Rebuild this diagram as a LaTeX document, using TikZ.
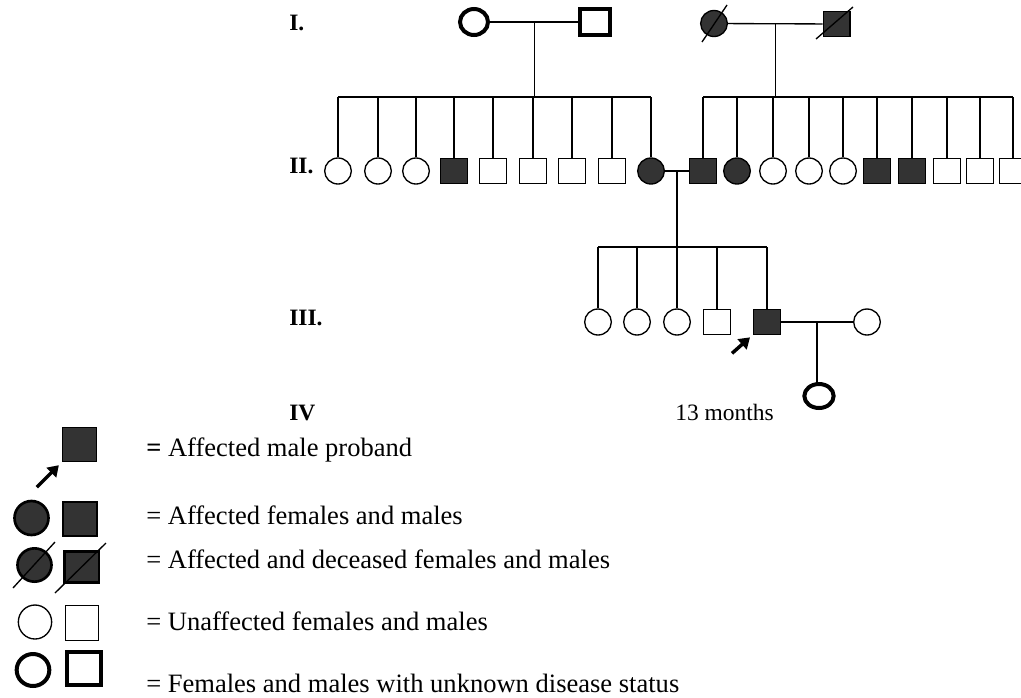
\documentclass[tikz,border=0pt]{standalone}
\usepackage{fontspec}
\setmainfont{Liberation Serif}
\usetikzlibrary{shapes.geometric,arrows.meta}
\tikzset{
  fem/.style={ellipse, draw, line width=1pt, minimum width=20pt, minimum height=19.5pt, inner sep=0pt},
  mal/.style={rectangle, draw, line width=1pt, minimum width=20pt, minimum height=19pt, inner sep=0pt},
  afem/.style={fem, fill=black!80},
  amal/.style={mal, fill=black!80},
  unk/.style={line width=3pt},
  ln/.style={line width=1pt},
  gen/.style={anchor=base west, inner sep=0pt, font=\fontsize{17.6}{20}\selectfont\bfseries},
  key/.style={anchor=base west, inner sep=0pt, font=\fontsize{19.9}{24}\selectfont},
  prb/.style={-{Triangle[length=8pt,width=10pt]}, line width=2.6pt}
}
\newcommand{\deadmark}[3]{\draw[ln] ([shift={#2}]#1.center) -- ([shift={#3}]#1.center);}
\begin{document}
\begin{tikzpicture}[x=0.75pt, y=-0.75pt]
\useasboundingbox (0,0) rectangle (1021,697);
\node[gen] (g1) at (289,30) {I.};
\node[gen] (g2) at (289,173) {II.};
\node[gen] (g3) at (289,325) {III.};
\node[gen] (g4) at (289,420) {IV};
% generation I
\node[fem, unk, minimum width=21pt, minimum height=19.5pt] (i1) at (474,22) {};
\node[mal, unk, minimum width=22pt, minimum height=20pt] (i2) at (595,22) {};
\node[afem] (i3) at (714,23.5) {};
\node[amal] (i4) at (836.5,24) {};
\deadmark{i3}{(-12,18.5)}{(13,-18.5)}
\deadmark{i4}{(-20.5,15)}{(16.5,-17)}
\draw[ln] (i1) -- coordinate (m1) (i2);
\draw[ln] (i3) -- coordinate (m2) (i4);
% generation II
\foreach \x/\s [count=\k] in {338/fem,378/fem,416/fem,454/amal,493/mal,533/mal,572/mal,612/mal,651/afem}
  \node[\s] (a\k) at (\x,171) {};
\foreach \x/\s [count=\k] in {703/amal,737/afem,773/fem,809/fem,843/fem,877/amal,912/amal,947/mal,980/mal,1013/mal}
  \node[\s] (b\k) at (\x,171) {};
\coordinate (s1) at (0,97);
\draw[ln] (m1) -- (m1 |- s1);
\draw[ln] (m2) -- (m2 |- s1);
\draw[ln] (a1.north |- s1) -- (a9.north |- s1);
\draw[ln] (b1.north |- s1) -- (b10.north |- s1);
\foreach \k in {1,...,9}
  \draw[ln] (a\k.north |- s1) -- (a\k.north);
\foreach \k in {1,...,10}
  \draw[ln] (b\k.north |- s1) -- (b\k.north);
\draw[ln] (a9) -- coordinate (m3) (b1);
% generation III
\foreach \x/\s [count=\k] in {598/fem,637/fem,677/fem,717/mal,767/amal,867/fem}
  \node[\s] (c\k) at (\x,322) {};
\coordinate (s2) at (0,247);
\draw[ln] (m3) -- (m3 |- s2);
\draw[ln] (c1.north |- s2) -- (c5.north |- s2);
\foreach \k in {1,...,5}
  \draw[ln] (c\k.north |- s2) -- (c\k.north);
\draw[ln] (c5) -- coordinate (m4) (c6);
\draw[prb] ([shift={(-21,18)}]c5.south west) -- ([shift={(-3,2)}]c5.south west);
% generation IV
\node[fem, unk, minimum width=22pt, minimum height=18pt] (d1) at (819,396) {};
\draw[ln] (m4) -- (m4 |- d1.north);
\node[anchor=base west, inner sep=0pt, font=\fontsize{17.6}{20}\selectfont] (age) at (675,420) {13 months};
% key
\node[amal, minimum width=25.5pt, minimum height=25.5pt] (l1) at (79.5,444.5) {};
\draw[prb] ([shift={(-25,25)}]l1.south west) -- ([shift={(-3,3)}]l1.south west);
\node[afem, line width=2pt, minimum width=25.5pt, minimum height=25.5pt] (l2f) at (31.5,518) {};
\node[amal, minimum width=25.5pt, minimum height=25.5pt] (l2m) at (80,519) {};
\node[afem, line width=2pt, minimum width=25.5pt, minimum height=25pt] (l3f) at (34.5,565) {};
\node[amal, line width=2pt, minimum width=26pt, minimum height=23.5pt] (l3m) at (81.5,567) {};
\deadmark{l3f}{(-21.5,23)}{(20.5,-23)}
\deadmark{l3m}{(-26.5,26)}{(24.5,-24)}
\node[fem, minimum width=25pt, minimum height=25.5pt] (l4f) at (35,622) {};
\node[mal, minimum width=25pt, minimum height=26pt] (l4m) at (82,623) {};
\node[fem, unk, minimum width=24.5pt, minimum height=24pt] (l5f) at (33,670) {};
\node[mal, unk, minimum width=25.5pt, minimum height=25pt] (l5m) at (84,668.5) {};
\node[key] (k1) at (146,456) {\textbf{=} Affected male proband};
\node[key] (k2) at (146,524) {= Affected females and males};
\node[key] (k3) at (146,568) {= Affected and deceased females and males};
\node[key] (k4) at (146,630) {= Unaffected females and males};
\node[key] (k5) at (146,692) {= Females and males with unknown disease status};
\end{tikzpicture}
\end{document}
